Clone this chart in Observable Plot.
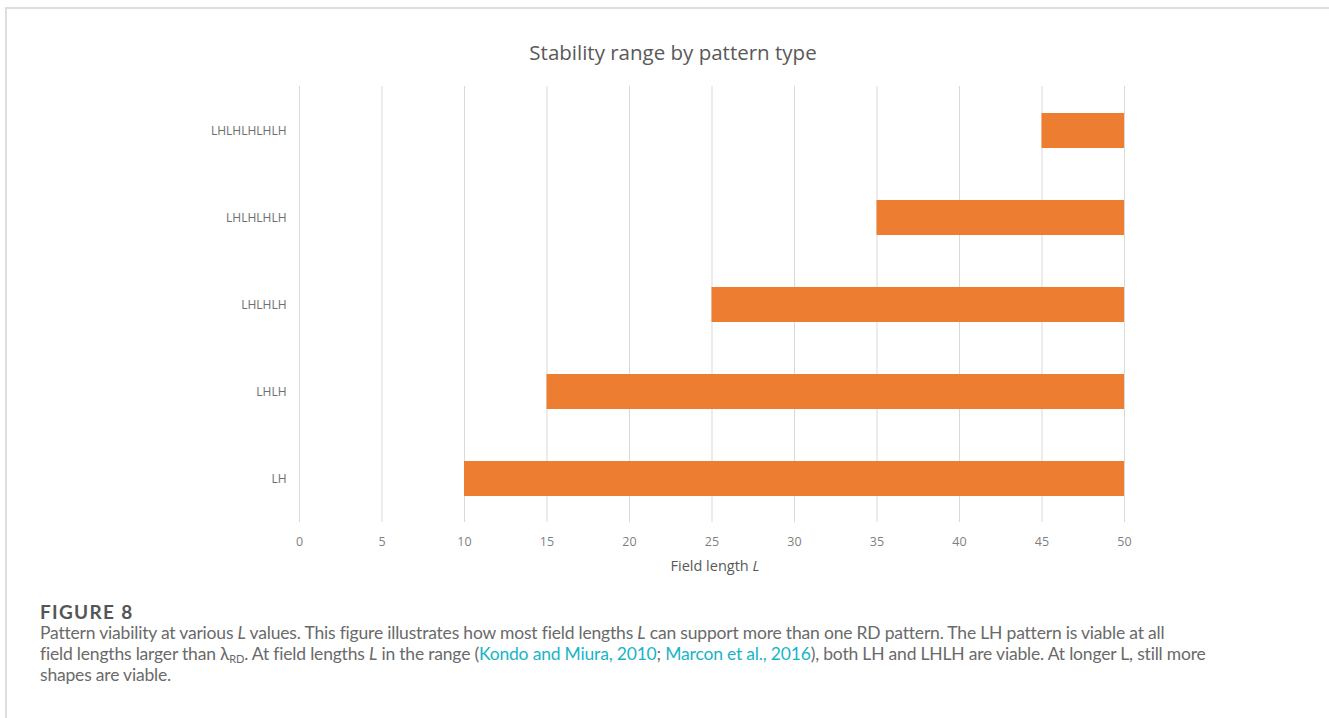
<!DOCTYPE html>
<html>
<head>
<meta charset="utf-8">
<script src="https://cdn.jsdelivr.net/npm/d3@7"></script>
<script src="https://cdn.jsdelivr.net/npm/@observablehq/plot@0.6"></script>
<style>
  html, body { margin: 0; padding: 0; background: #fff; }
  body { width: 1329px; height: 718px; position: relative; overflow: hidden; }
  #frame { position: absolute; left: 5px; top: 7px; width: 1400px; height: 800px;
           border-left: 2px solid #dedede; border-top: 2px solid #dedede; }
  #title { position: absolute; left: 0; width: 1346px; top: 38px; text-align: center;
           font-family: "Open Sans", sans-serif; font-size: 20.5px; color: #595959; }
  #chart { position: absolute; left: 0; top: 60px; }
  #xlabel { position: absolute; left: 615px; width: 200px; top: 556px; text-align: center;
            font-family: "Open Sans", sans-serif; font-size: 14.5px; color: #595959; }
  #caption { position: absolute; left: 40px; top: 601px; white-space: nowrap;
             font-family: "Lato", sans-serif; color: #6a6a6a; font-size: 17.5px; line-height: 21px; }
  #caption .fig { font-weight: bold; color: #555; font-size: 19px; letter-spacing: 1.3px; }
  #caption a { color: #18b4c8; text-decoration: none; }
  #caption sub { font-size: 11px; vertical-align: -3px; line-height: 0; }
</style>
</head>
<body>
<div id="frame"></div>
<div id="title">Stability range by pattern type</div>
<div id="chart"></div>
<div id="xlabel">Field length <i>L</i></div>
<div id="caption">
  <div class="fig">FIGURE 8</div>
  <div id="line1">Pattern viability at various <i>L</i> values. This figure illustrates how most field lengths <i>L</i> can support more than one RD pattern. The LH pattern is viable at all</div>
  <div class="line">field lengths larger than λ<sub>RD</sub>. At field lengths <i>L</i> in the range (<a>Kondo and Miura, 2010</a>; <a>Marcon et al., 2016</a>), both LH and LHLH are viable. At longer L, still more</div>
  <div class="line">shapes are viable.</div>
</div>
<script>
// Patterns and the range of field lengths over which each one is stable
const patterns = ["LH", "LHLH", "LHLHLH", "LHLHLHLH", "LHLHLHLHLH"];
const minLength = [10, 15, 25, 35, 45];
const maxLength = [50, 50, 50, 50, 50];
const xTicks = [0, 5, 10, 15, 20, 25, 30, 35, 40, 45, 50];

const rows = patterns.map((p, i) => ({pattern: p, from: minLength[i], to: maxLength[i]}));

const chart = Plot.plot({
  width: 1329,
  height: 530,
  marginLeft: 299,
  marginRight: 205,
  marginTop: 26,
  marginBottom: 68,
  style: {fontFamily: "'Open Sans', sans-serif", color: "#595959", background: "transparent"},
  x: {domain: [0, 50], ticks: xTicks, label: null},
  y: {domain: patterns.slice().reverse(), paddingInner: 0.6, paddingOuter: 0.3, label: null},
  marks: [
    Plot.gridX(xTicks, {stroke: "#d9d9d9", strokeOpacity: 1, strokeWidth: 1}),
    Plot.barX(rows, {x1: "from", x2: "to", y: "pattern", fill: "#ED7D31"}),
    Plot.axisX(xTicks, {tickSize: 0, tickPadding: 15, fontSize: 12.5, fill: "#7f7f7f", label: null}),
    Plot.axisY({tickSize: 0, tickPadding: 13, fontSize: 12, fill: "#6e6e6e", label: null})
  ]
});
document.getElementById("chart").appendChild(chart);

// Stretch the caption's letter spacing so the first line spans the text column
document.fonts.ready.then(() => {
  const line1 = document.getElementById("line1");
  const range = document.createRange();
  range.selectNodeContents(line1);
  const w = range.getBoundingClientRect().width;
  const chars = line1.textContent.length;
  const ls = (1122 - w) / chars;
  document.querySelectorAll("#caption > div:not(.fig)").forEach(d => d.style.letterSpacing = ls + "px");
});
</script>
</body>
</html>
